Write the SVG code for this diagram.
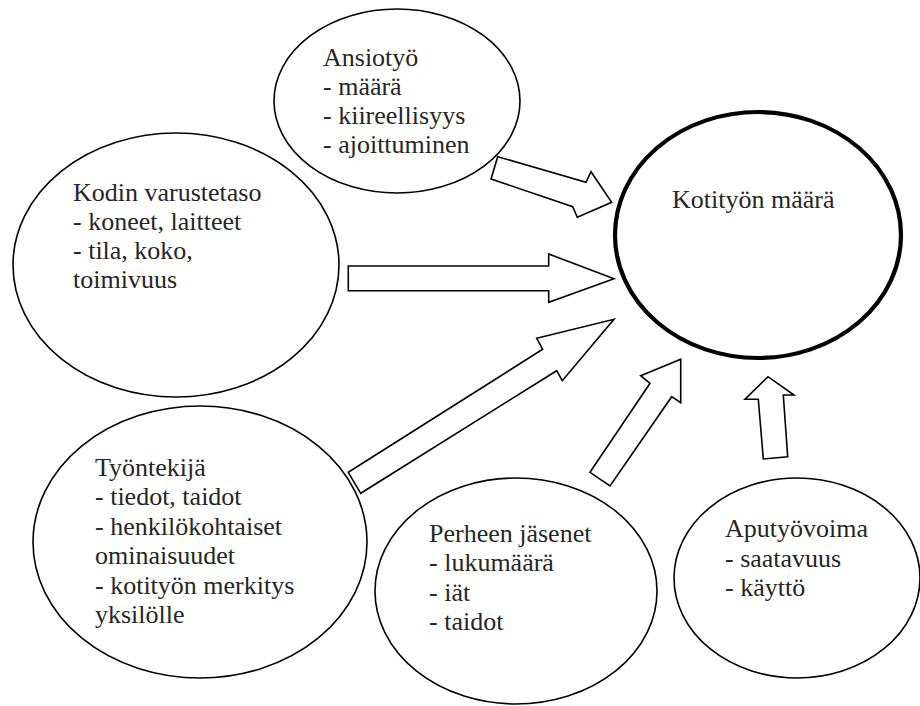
<svg xmlns="http://www.w3.org/2000/svg" width="920" height="706" viewBox="0 0 920 706">
<style>
.node ellipse{fill:#fff;stroke:#000;stroke-width:1.6}
.node.main ellipse{stroke-width:4.2}
.node text{font-size:26px;fill:#262626}
.arrows path{fill:#fff;stroke:#000;stroke-width:1.6;stroke-linejoin:miter}
</style>
<rect width="920" height="706" fill="#fff"/>
<g id="ansiotyo" class="node" font-family="serif">
<ellipse cx="397" cy="101" rx="123" ry="92"/>
<text x="323" y="66">Ansiotyö</text>
<text x="323" y="95">- määrä</text>
<text x="323" y="124">- kiireellisyys</text>
<text x="323" y="153">- ajoittuminen</text>
</g>
<g id="kodin" class="node" font-family="serif">
<ellipse cx="176" cy="265" rx="163" ry="132"/>
<text x="73" y="201">Kodin varustetaso</text>
<text x="73" y="230">- koneet, laitteet</text>
<text x="73" y="259">- tila, koko,</text>
<text x="73" y="288">toimivuus</text>
</g>
<g id="kotityo" class="node main" font-family="serif">
<ellipse cx="758" cy="235" rx="143" ry="123"/>
<text x="672" y="208">Kotityön määrä</text>
</g>
<g id="tyontekija" class="node" font-family="serif">
<ellipse cx="200" cy="542" rx="167" ry="136"/>
<text x="95" y="476">Työntekijä</text>
<text x="95" y="505">- tiedot, taidot</text>
<text x="95" y="535">- henkilökohtaiset</text>
<text x="95" y="564">ominaisuudet</text>
<text x="95" y="594">- kotityön merkitys</text>
<text x="95" y="623">yksilölle</text>
</g>
<g id="perhe" class="node" font-family="serif">
<ellipse cx="516" cy="591" rx="141" ry="113"/>
<text x="429" y="542">Perheen jäsenet</text>
<text x="429" y="571">- lukumäärä</text>
<text x="429" y="601">- iät</text>
<text x="429" y="630">- taidot</text>
</g>
<g id="aputyovoima" class="node" font-family="serif">
<ellipse cx="797" cy="578" rx="123" ry="100"/>
<text x="725" y="537">Aputyövoima</text>
<text x="725" y="567">- saatavuus</text>
<text x="725" y="596">- käyttö</text>
</g>
<g id="connectors" class="arrows">
<path d="M497.7,156.7 L586,182.3 L591,171.7 L611.7,202.3 L577.3,217.3 L572.7,206.7 L491,179 Z"/>
<path d="M348.3,266 L548.7,266 L548.7,254 L614,278.7 L548.7,302.3 L548.7,290.7 L348.3,290.7 Z"/>
<path d="M348.3,472.3 L542.7,349.3 L536.7,338.3 L614,319.3 L562.3,380.7 L556.7,370.7 L360.7,493.3 Z"/>
<path d="M590,472.3 L650,383.3 L640.7,375.7 L680.7,359.3 L680.7,402.7 L671.7,396.7 L610,486 Z"/>
<path d="M763.3,459 L758.3,399.3 L745,399.3 L768,376.7 L794,395 L783.3,395 L787.7,456.7 Z"/>
</g>
</svg>
